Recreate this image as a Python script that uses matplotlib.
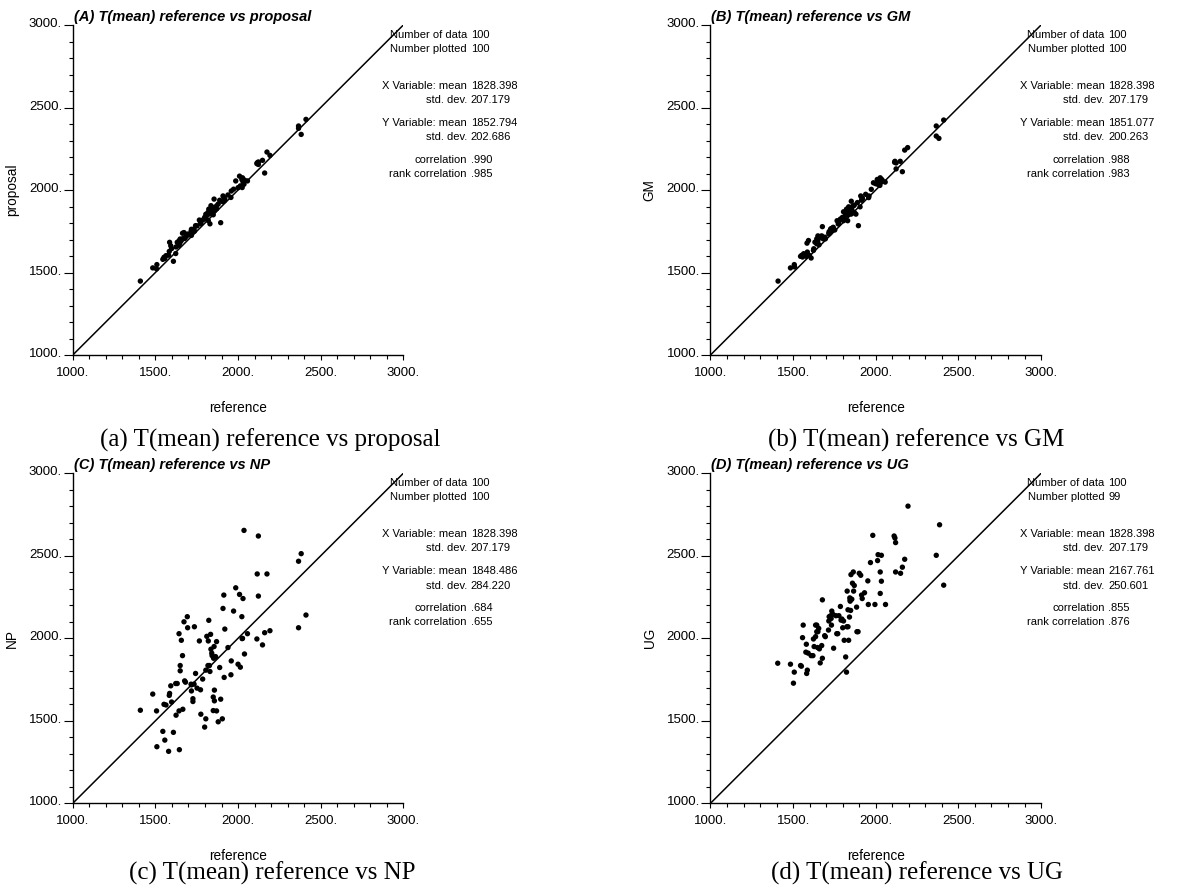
import matplotlib
matplotlib.use('agg')
import matplotlib.pyplot as plt
from matplotlib.ticker import MultipleLocator, FuncFormatter
from matplotlib.transforms import ScaledTranslation

# reference values (shared x of panels A-C)
reference = [1409, 1484, 1507, 1509, 1545, 1552, 1557, 1564, 1580, 1584,
             1586, 1593, 1598, 1609, 1623, 1625, 1632, 1643, 1643, 1645,
             1650, 1650, 1657, 1664, 1666, 1673, 1677, 1682, 1693, 1695,
             1718, 1718, 1727, 1727, 1734, 1736, 1743, 1752, 1766, 1773,
             1775, 1786, 1798, 1805, 1805, 1811, 1818, 1820, 1823, 1827,
             1830, 1834, 1836, 1841, 1843, 1850, 1850, 1852, 1855, 1857,
             1857, 1864, 1870, 1870, 1880, 1889, 1895, 1905, 1909, 1914,
             1916, 1920, 1939, 1957, 1959, 1973, 1986, 2000, 2009, 2014,
             2023, 2027, 2030, 2036, 2039, 2057, 2114, 2116, 2123, 2123,
             2148, 2161, 2175, 2193, 2366, 2366, 2382, 2411, 1716, 2025]

proposal = [1448, 1528, 1522, 1548, 1580, 1592, 1585, 1602, 1605, 1628,
            1683, 1662, 1645, 1568, 1615, 1655, 1683, 1665, 1692, 1675,
            1703, 1684, 1694, 1738, 1705, 1742, 1706, 1714, 1725, 1733,
            1762, 1725, 1745, 1758, 1764, 1750, 1784, 1783, 1818, 1805,
            1795, 1818, 1834, 1825, 1853, 1845, 1864, 1815, 1884, 1855,
            1795, 1874, 1905, 1884, 1865, 1850, 1894, 1875, 1945, 1890,
            1874, 1885, 1904, 1886, 1915, 1938, 1802, 1930, 1964, 1955,
            1934, 1945, 1970, 1955, 1994, 2005, 2055, 2014, 2084, 2025,
            2064, 2074, 2050, 2035, 2060, 2055, 2160, 2165, 2155, 2170,
            2180, 2103, 2230, 2210, 2388, 2374, 2337, 2428, 1750, 2015]

gm = [1448, 1528, 1548, 1534, 1598, 1604, 1594, 1614, 1598, 1678,
      1624, 1694, 1604, 1588, 1634, 1644, 1684, 1674, 1704, 1684,
      1722, 1694, 1668, 1718, 1714, 1722, 1778, 1704, 1714, 1704,
      1748, 1734, 1744, 1764, 1768, 1754, 1774, 1758, 1814, 1794,
      1804, 1824, 1834, 1814, 1868, 1824, 1854, 1848, 1884, 1848,
      1814, 1864, 1898, 1874, 1864, 1854, 1884, 1932, 1858, 1898,
      1874, 1904, 1908, 1864, 1854, 1924, 1784, 1898, 1964, 1938,
      1954, 1948, 1974, 1954, 1964, 2004, 2044, 2038, 2064, 2034,
      2054, 2074, 2048, 2064, 2058, 2048, 2168, 2174, 2128, 2164,
      2174, 2111, 2242, 2257, 2388, 2327, 2313, 2424, 1738, 2028]

np_model = [1564, 1662, 1560, 1343, 1436, 1600, 1383, 1596, 1315, 1654,
            1666, 1712, 1614, 1430, 1726, 1534, 1726, 2028, 1560, 1325,
            1803, 1835, 1988, 1895, 1570, 2100, 1742, 1734, 2131, 2064,
            1718, 1681, 1634, 1617, 1722, 2070, 1787, 1698, 1984, 1688,
            1540, 1753, 1462, 1512, 1807, 2012, 1835, 1984, 2109, 1835,
            1799, 2024, 1934, 1910, 1895, 1644, 1562, 1879, 1950, 1686,
            1621, 1889, 1560, 1980, 1494, 1823, 1631, 1512, 2181, 2262,
            1763, 2056, 1944, 1779, 1863, 2165, 2306, 1843, 2266, 1825,
            2131, 2000, 2241, 2654, 1905, 2028, 1996, 2390, 2256, 2620,
            1960, 2034, 2390, 2046, 2064, 2467, 2513, 2141, 1722, 1998]

reference_ug = [1407, 1484, 1507, 1502, 1545, 1550, 1557, 1561, 1580, 1582,
                1586, 1577, 1591, 1609, 1620, 1623, 1627, 1636, 1643, 1636,
                1643, 1650, 1648, 1659, 1664, 1673, 1677, 1677, 1691, 1695,
                1714, 1716, 1718, 1727, 1732, 1734, 1741, 1745, 1759, 1764,
                1770, 1777, 1786, 1795, 1800, 1805, 1809, 1818, 1823, 1827,
                1832, 1832, 1836, 1841, 1843, 1845, 1848, 1850, 1855, 1859,
                1864, 1866, 1884, 1886, 1893, 1900, 1909, 1914, 1918, 1932,
                1952, 1955, 1968, 1982, 1995, 2011, 2014, 2027, 2027, 2034,
                2034, 2059, 2111, 2116, 2120, 2120, 2150, 2161, 2175, 2195,
                2366, 2386, 2411, 1825, 1845, 1655, 1730, 1790, 1870]
ug = [1849, 1843, 1795, 1728, 1835, 1831, 2004, 2080, 1964, 1787,
      1807, 1916, 1910, 1895, 1895, 1996, 1950, 2080, 2080, 2010,
      2040, 2040, 1944, 1936, 1851, 1956, 1879, 2233, 2016, 2010,
      2050, 2105, 2131, 2137, 2080, 2165, 2145, 1940, 2137, 2028,
      2028, 2137, 2193, 2117, 2064, 2105, 1988, 1887, 1795, 2286,
      2173, 2070, 1988, 2129, 2245, 2233, 2169, 2386, 2237, 2334,
      2402, 2286, 2189, 2040, 2040, 2394, 2382, 2262, 2241, 2276,
      2348, 2205, 2459, 2624, 2205, 2471, 2507, 2402, 2272, 2503,
      2346, 2205, 2620, 2608, 2580, 2402, 2394, 2431, 2479, 2801,
      2503, 2688, 2322, 2070, 2225, 2060, 2120, 2110, 2320]

stat_labels = ["Number of data", "Number plotted", "X Variable: mean", "std. dev.",
               "Y Variable: mean", "std. dev.", "correlation", "rank correlation"]
stats_a = ["100", "100", "1828.398", "207.179", "1852.794", "202.686", ".990", ".985"]
stats_b = ["100", "100", "1828.398", "207.179", "1851.077", "200.263", ".988", ".983"]
stats_c = ["100", "100", "1828.398", "207.179", "1848.486", "284.220", ".684", ".655"]
stats_d = ["100", "99", "1828.398", "207.179", "2167.761", "250.601", ".855", ".876"]

SANS = 'Liberation Sans'
SERIF = 'Liberation Serif'
plt.rcParams['font.family'] = SANS


def scatter_panel(fig, rect, x, y, letter, name, stats, caption, cap_xy):
    ax = fig.add_axes(rect)
    ax.plot([1000, 3000], [1000, 3000], color='k', lw=1.1, zorder=2)
    ax.scatter(x, y, s=15, c='k', edgecolors='none', zorder=3, clip_on=False)
    ax.set_xlim(1000, 3000)
    ax.set_ylim(1000, 3000)
    for s in ['top', 'right']:
        ax.spines[s].set_visible(False)
    for s in ['left', 'bottom']:
        ax.spines[s].set_linewidth(1.0)
    fmt = FuncFormatter(lambda v, p: "%d." % v)
    for axis in (ax.xaxis, ax.yaxis):
        axis.set_major_locator(MultipleLocator(500))
        axis.set_minor_locator(MultipleLocator(100))
        axis.set_major_formatter(fmt)
    ax.tick_params(axis='x', which='major', length=3.6, width=0.8, pad=5.0, labelsize=9.5)
    ax.tick_params(axis='x', which='minor', length=2.6, width=0.8)
    ax.tick_params(axis='y', which='major', length=6.5, width=0.8, pad=1.2, labelsize=9.5)
    ax.tick_params(axis='y', which='minor', length=3.0, width=0.8)
    # y tick labels sit a little above their ticks
    shift = ScaledTranslation(0, 2.5 / 100, fig.dpi_scale_trans)
    for lbl in ax.get_yticklabels():
        lbl.set_transform(lbl.get_transform() + shift)

    ax.set_xlabel("reference", fontsize=9.8)
    ax.set_ylabel(name, fontsize=9.8)
    ax.xaxis.set_label_coords(0.5, -0.138)
    ax.yaxis.set_label_coords(-0.163, 0.5)

    ax.text(0.003, 1.013, "(%s) T(mean) reference vs %s" % (letter, name),
            transform=ax.transAxes, fontsize=10.5, fontweight='bold',
            fontstyle='italic', va='baseline', ha='left')

    rows = [0.971, 0.928, 0.815, 0.773, 0.704, 0.660, 0.591, 0.548]
    for lab, val, yy in zip(stat_labels, stats, rows):
        ax.text(1.192, yy, lab, transform=ax.transAxes, fontsize=8,
                ha='right', va='center')
        ax.text(1.204, yy, val, transform=ax.transAxes, fontsize=8,
                ha='left', va='center')

    fig.text(cap_xy[0], cap_xy[1], caption, family=SERIF, fontsize=18,
             ha='center', va='baseline')
    return ax


fig = plt.figure(figsize=(11.79, 8.90), dpi=100)
w, h = 0.2804, 0.3708
scatter_panel(fig, [0.0617, 0.6011, w, h], reference, proposal, "A", "proposal",
              stats_a, "(a) T(mean) reference vs proposal", (0.2295, 0.4978))
scatter_panel(fig, [0.6026, 0.6011, w, h], reference, gm, "B", "GM",
              stats_b, "(b) T(mean) reference vs GM", (0.777, 0.4978))
scatter_panel(fig, [0.0617, 0.0974, w, h], reference, np_model, "C", "NP",
              stats_c, "(c) T(mean) reference vs NP", (0.2313, 0.0112))
scatter_panel(fig, [0.6026, 0.0974, w, h], reference_ug, ug, "D", "UG",
              stats_d, "(d) T(mean) reference vs UG", (0.7775, 0.0112))

plt.savefig("out.png", dpi=100)
